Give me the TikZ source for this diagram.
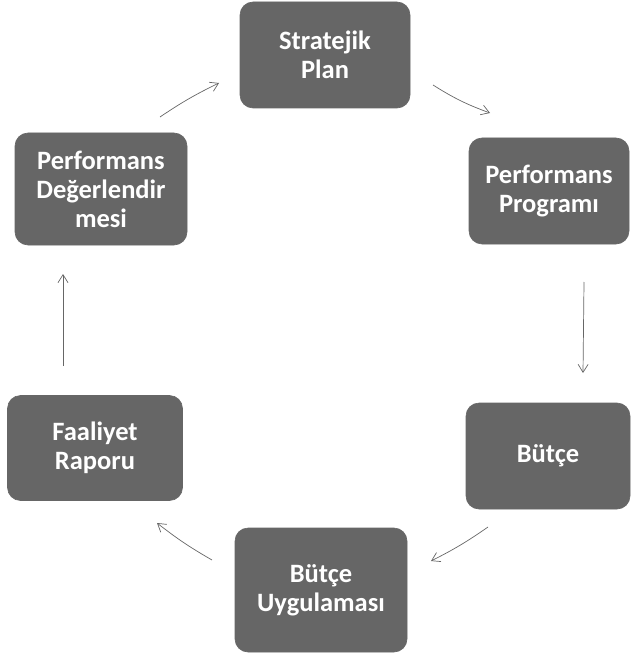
\documentclass[tikz,border=0pt]{standalone}
\usepackage{fontspec}
\setmainfont{Carlito}
\usetikzlibrary{arrows.meta}
\begin{document}
\begin{tikzpicture}[x=1pt,y=-1pt,
  box/.style={draw=black!60, line width=0.6pt, fill=black!60, rounded corners=13pt, text=white,
    font=\fontsize{26.5}{29}\selectfont\bfseries, align=center, inner sep=2pt},
  conn/.style={draw=black!60, line width=0.7pt, -{Straight Barb[length=8pt,width=10pt]}}]
\useasboundingbox (0,0) rectangle (631,660);
\node[box, minimum width=170pt, minimum height=106pt] (sp) at (325,55) {Stratejik\\Plan};
\node[box, minimum width=160pt, minimum height=106pt] (pp) at (549,191) {Performans\\Programı};
\node[box, minimum width=172pt, minimum height=112pt] (pd) at (101,189) {Performans\\Değerlendir\\mesi};
\node[box, minimum width=164pt, minimum height=106pt] (bu) at (548,456) {Bütçe};
\node[box, minimum width=172pt, minimum height=124pt] (bg) at (321,590) {Bütçe\\Uygulaması};
\node[box, minimum width=175pt, minimum height=105pt] (fr) at (95,448) {Faaliyet\\Raporu};
\coordinate (a1s) at (160,117); \coordinate (a1e) at (219,83);
\coordinate (a2s) at (433,85);  \coordinate (a2e) at (490,113);
\coordinate (a3s) at (584,282); \coordinate (a3e) at (583,373);
\coordinate (a4s) at (488,527); \coordinate (a4e) at (431,561);
\coordinate (a5s) at (212,560); \coordinate (a5e) at (157,523);
\coordinate (a6s) at (63,366);  \coordinate (a6e) at (63,274);
\draw[conn] (a1s) to[bend left=4] (a1e);
\draw[conn] (a2s) to[bend right=6] (a2e);
\draw[conn] (a3s) -- (a3e);
\draw[conn] (a4s) to[bend left=4] (a4e);
\draw[conn] (a5s) to[bend left=4] (a5e);
\draw[conn] (a6s) -- (a6e);
\end{tikzpicture}
\end{document}
